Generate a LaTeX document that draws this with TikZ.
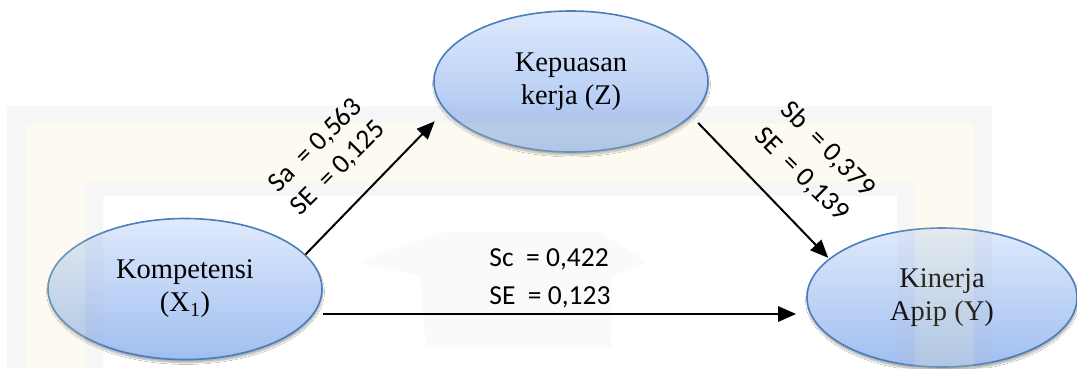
\documentclass[tikz,border=0pt]{standalone}
\usepackage{fontspec}
\setmainfont{Liberation Serif}
\newfontfamily\labfont{Carlito}
\usetikzlibrary{arrows.meta,shapes.geometric,shadows.blur}

\definecolor{ovalline}{RGB}{74,126,187}
\definecolor{ovaltop}{RGB}{223,234,252}
\definecolor{ovalbottom}{RGB}{160,190,240}
\definecolor{wmgray}{RGB}{185,185,195}
\definecolor{wmbeige}{RGB}{245,235,180}

\begin{document}
\begin{tikzpicture}[x=1pt,y=-1pt,
  construct/.style={ellipse, draw=ovalline, line width=1.6pt,
    top color=ovaltop, bottom color=ovalbottom,
    minimum width=274pt, minimum height=141pt, inner sep=0pt,
    align=center, font=\fontsize{28.5}{33}\selectfont,
    blur shadow={shadow xshift=0.5pt, shadow yshift=-3pt,
      shadow blur steps=8, shadow opacity=35}},
  coef/.style={inner sep=0pt, align=left},
  link/.style={line width=2pt, -{Triangle[length=18pt,width=15pt]}},
]
\useasboundingbox (0,0) rectangle (1077,368);
\clip (0,0) rectangle (1077,368);
\fill[white] (0,0) rectangle (1077,368);

% constructs
\node[construct] (X) at (185,289) {Kompetensi\\(X\textsubscript{1})};
\node[construct] (Z) at (571,81.5) {Kepuasan\\kerja (Z)};
\node[construct, minimum width=270pt, minimum height=139pt] (Y) at (942,297.5) {Kinerja\\Apip (Y)};

% faint framed watermark laid over the page
\fill[wmgray, opacity=.12, even odd rule]
  (7,106) rectangle (992,368) (25,123) rectangle (974,368);
\fill[wmbeige, opacity=.18, even odd rule]
  (25,123) rectangle (974,368) (85,183) rectangle (915,368);
\fill[wmgray, opacity=.12, even odd rule]
  (85,183) rectangle (915,368) (103,196) rectangle (897,368);
\fill[wmgray, opacity=.06]
  (446,232) -- (600,232) -- (646,262) -- (612,276) -- (611,347)
  -- (426,347) -- (420,276) -- (357,262) -- cycle;

% paths
\draw[link, shorten >=15pt] (X.16.5) -- (Z.193);
\draw[link, shorten <=9.6pt, shorten >=1pt] (Z.-16) -- (Y.161);
\coordinate (lane) at (0,314);
\draw[link, line width=2.6pt, shorten >=10pt] (X.east |- lane) -- (Y.west |- lane);

% path coefficients
\node[coef, rotate=45, font=\labfont\fontsize{27.5}{32}\selectfont] (a) at (327,157)
  {Sa\ \ = 0,563\\SE\ \ = 0,125};
\node[coef, rotate=-45, font=\labfont\fontsize{27.5}{36}\selectfont] (b) at (815,162)
  {Sb\ \ = 0,379\\SE\ \ = 0,139};
\node[coef, font=\labfont\fontsize{27.5}{38}\selectfont] (c) at (550,278)
  {Sc\ \ = 0,422\\SE\ \ = 0,123};
\end{tikzpicture}
\end{document}
